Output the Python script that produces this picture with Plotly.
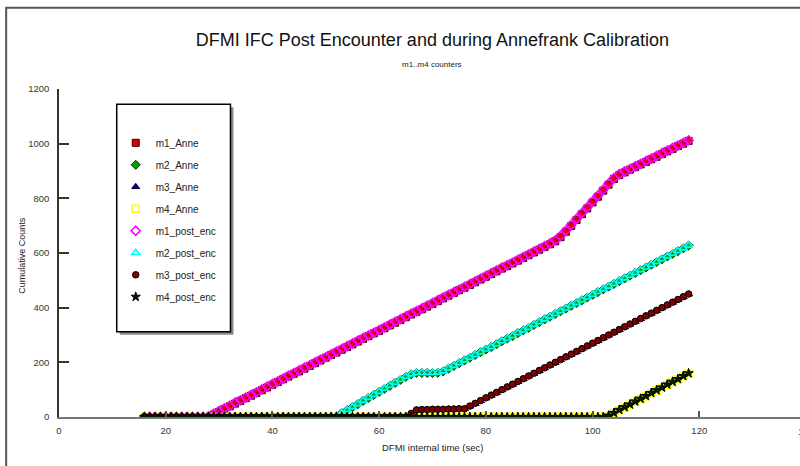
import plotly.graph_objects as go

# ---------------- data ----------------
time_s = [
    16, 17, 18, 19,
    20, 21, 22, 23, 24, 25, 26, 27, 28, 29,
    30, 31, 32, 33, 34, 35, 36, 37, 38, 39,
    40, 41, 42, 43, 44, 45, 46, 47, 48, 49,
    50, 51, 52, 53, 54, 55, 56, 57, 58, 59,
    60, 61, 62, 63, 64, 65, 66, 67, 68, 69,
    70, 71, 72, 73, 74, 75, 76, 77, 78, 79,
    80, 81, 82, 83, 84, 85, 86, 87, 88, 89,
    90, 91, 92, 93, 94, 95, 96, 97, 98, 99,
    100, 101, 102, 103, 104, 105, 106, 107, 108, 109,
    110, 111, 112, 113, 114, 115, 116, 117, 118,
]

m1_anne = [
    0, 0, 0, 0,
    0, 0, 0, 0, 0, 0, 0, 0, 0, 9,
    19, 29, 39, 49, 59, 69, 78, 88, 98, 108,
    118, 128, 138, 148, 158, 167, 177, 187, 197, 207,
    217, 227, 236, 246, 256, 266, 276, 286, 296, 306,
    315, 325, 335, 345, 355, 365, 375, 385, 394, 404,
    414, 424, 434, 444, 454, 464, 473, 483, 493, 503,
    513, 523, 533, 543, 552, 562, 572, 582, 592, 602,
    612, 622, 632, 643, 658, 678, 699, 721, 742, 763,
    785, 806, 828, 850, 871, 885, 895, 905, 914, 924,
    933, 943, 952, 962, 972, 981, 991, 1000, 1010,
]

m2_anne = [
    0, 0, 0, 0,
    0, 0, 0, 0, 0, 0, 0, 0, 0, 0,
    0, 0, 0, 0, 0, 0, 0, 0, 0, 0,
    0, 0, 0, 0, 0, 0, 0, 0, 0, 0,
    0, 0, 3, 14, 25, 36, 47, 59, 70, 81,
    92, 103, 114, 125, 136, 147, 156, 161, 161, 161,
    161, 162, 167, 177, 187, 197, 207, 217, 227, 237,
    247, 256, 266, 277, 287, 296, 307, 317, 326, 337,
    347, 357, 367, 377, 387, 397, 407, 417, 427, 437,
    447, 457, 467, 477, 487, 497, 507, 517, 527, 537,
    547, 557, 567, 577, 587, 597, 607, 617, 627,
]

m3_anne = [
    0, 0, 0, 0,
    0, 0, 0, 0, 0, 0, 0, 0, 0, 0,
    0, 0, 0, 0, 0, 0, 0, 0, 0, 0,
    0, 0, 0, 0, 0, 0, 0, 0, 0, 0,
    0, 0, 0, 0, 0, 0, 0, 0, 0, 0,
    0, 0, 0, 0, 0, 0, 12, 25, 27, 27,
    28, 28, 28, 29, 29, 30, 30, 39, 49, 59,
    69, 79, 89, 99, 109, 119, 129, 139, 149, 159,
    169, 179, 189, 199, 209, 219, 229, 239, 249, 259,
    269, 279, 289, 299, 309, 319, 329, 339, 349, 359,
    369, 379, 389, 399, 409, 419, 429, 439, 449,
]

m4_anne = [
    0, 0, 0, 0,
    0, 0, 0, 0, 0, 0, 0, 0, 0, 0,
    0, 0, 0, 0, 0, 0, 0, 0, 0, 0,
    0, 0, 0, 0, 0, 0, 0, 0, 0, 0,
    0, 0, 0, 0, 0, 0, 0, 0, 0, 0,
    0, 0, 0, 0, 0, 0, 0, 0, 0, 0,
    0, 0, 0, 0, 0, 0, 0, 0, 0, 0,
    0, 0, 0, 0, 0, 0, 0, 0, 0, 0,
    0, 0, 0, 0, 0, 0, 0, 0, 0, 0,
    0, 0, 0, 4, 14, 25, 35, 45, 56, 66,
    76, 87, 97, 107, 118, 128, 138, 149, 159,
]

m1_post_enc = [
    0, 0, 0, 0,
    0, 0, 0, 0, 0, 0, 0, 0, 2, 12,
    22, 31, 41, 52, 61, 71, 81, 90, 101, 111,
    121, 130, 140, 151, 160, 170, 180, 190, 200, 210,
    219, 229, 239, 249, 259, 269, 279, 289, 298, 308,
    318, 328, 338, 348, 358, 368, 378, 387, 397, 407,
    417, 427, 437, 447, 457, 466, 476, 486, 496, 506,
    516, 526, 536, 546, 555, 565, 575, 585, 595, 605,
    615, 625, 635, 646, 662, 682, 703, 725, 746, 767,
    789, 810, 832, 854, 874, 888, 898, 907, 917, 926,
    936, 945, 955, 965, 974, 984, 993, 1003, 1012,
]

m2_post_enc = [
    0, 0, 0, 0,
    0, 0, 0, 0, 0, 0, 0, 0, 0, 0,
    0, 0, 0, 0, 0, 0, 0, 0, 0, 0,
    0, 0, 0, 0, 0, 0, 0, 0, 0, 0,
    0, 0, 4, 15, 26, 37, 48, 60, 71, 82,
    93, 104, 115, 126, 137, 148, 157, 162, 162, 162,
    162, 163, 168, 178, 188, 198, 208, 218, 228, 238,
    248, 257, 267, 278, 288, 297, 308, 318, 327, 338,
    348, 358, 368, 378, 388, 398, 408, 418, 428, 438,
    448, 458, 468, 478, 488, 498, 508, 518, 528, 538,
    548, 558, 568, 578, 588, 598, 608, 618, 628,
]

m3_post_enc = [
    0, 0, 0, 0,
    0, 0, 0, 0, 0, 0, 0, 0, 0, 0,
    0, 0, 0, 0, 0, 0, 0, 0, 0, 0,
    0, 0, 0, 0, 0, 0, 0, 0, 0, 0,
    0, 0, 0, 0, 0, 0, 0, 0, 0, 0,
    0, 0, 0, 0, 0, 0, 13, 26, 27, 27,
    28, 28, 28, 29, 29, 30, 30, 40, 50, 60,
    70, 80, 90, 100, 110, 120, 130, 140, 150, 160,
    170, 180, 190, 200, 210, 220, 230, 240, 250, 260,
    270, 280, 290, 300, 310, 320, 330, 340, 350, 360,
    370, 380, 390, 400, 410, 420, 430, 440, 450,
]

m4_post_enc = [
    0, 0, 0, 0,
    0, 0, 0, 0, 0, 0, 0, 0, 0, 0,
    0, 0, 0, 0, 0, 0, 0, 0, 0, 0,
    0, 0, 0, 0, 0, 0, 0, 0, 0, 0,
    0, 0, 0, 0, 0, 0, 0, 0, 0, 0,
    0, 0, 0, 0, 0, 0, 0, 0, 0, 0,
    0, 0, 0, 0, 0, 0, 0, 0, 0, 0,
    0, 0, 0, 0, 0, 0, 0, 0, 0, 0,
    0, 0, 0, 0, 0, 0, 0, 0, 0, 0,
    0, 0, 0, 5, 15, 26, 36, 46, 57, 67,
    77, 88, 98, 108, 119, 129, 139, 150, 160,
]

series_names = ["m1_Anne", "m2_Anne", "m3_Anne", "m4_Anne",
                "m1_post_enc", "m2_post_enc", "m3_post_enc", "m4_post_enc"]
series_values = [m1_anne, m2_anne, m3_anne, m4_anne,
                 m1_post_enc, m2_post_enc, m3_post_enc, m4_post_enc]

x_ticks = [0, 20, 40, 60, 80, 100, 120]
y_ticks = [0, 200, 400, 600, 800, 1000, 1200]

# ---------------- styles ----------------
markers = [
    dict(symbol="square", size=7, color="#e00000", line=dict(color="#300000", width=1)),
    dict(symbol="diamond", size=7, color="#00a000", line=dict(color="#003000", width=1)),
    dict(symbol="triangle-up", size=7, color="#0000b0", line=dict(color="#000030", width=1)),
    dict(symbol="square-open", size=7, color="#ffff00", line=dict(width=1.5)),
    dict(symbol="diamond-open", size=7, color="#ff00ff", line=dict(width=1.6)),
    dict(symbol="triangle-up-open", size=7, color="#00ffff", line=dict(width=1.6)),
    dict(symbol="circle", size=6.5, color="#800000", line=dict(color="#000000", width=1)),
    dict(symbol="star", size=7, color="#002000", line=dict(color="#000000", width=1)),
]

W, H = 800, 466
L, R_PX, T, B_PX = 59.3, 800.0, 88.7, 416.7   # plot area in pixels
X_PER_PX = 20 / 106.67
x_max = (R_PX - L) * X_PER_PX


def px(xp):
    return (xp - L) / (R_PX - L)


def py(yp):
    return (B_PX - yp) / (B_PX - T)


fig = go.Figure()
for name, vals, mk in zip(series_names, series_values, markers):
    fig.add_trace(go.Scatter(x=time_s, y=vals, mode="markers", name=name,
                             legendgroup=name, marker=mk))

tick_font = dict(family="Liberation Sans, Arial, sans-serif", size=9.5, color="#333333")

fig.update_layout(
    width=W, height=H,
    margin=dict(l=L, r=W - R_PX, t=T, b=H - B_PX, pad=0),
    paper_bgcolor="white", plot_bgcolor="white",
    font=dict(family="Liberation Sans, Arial, sans-serif", color="#222222"),
    showlegend=True,
    legend=dict(x=px(116), y=py(128), xanchor="left", yanchor="top",
                bgcolor="rgba(0,0,0,0)", borderwidth=0,
                font=dict(size=10, color="#222222"),
                tracegroupgap=3, traceorder="grouped"),
    xaxis=dict(range=[0, x_max], tickvals=x_ticks, ticks="inside", ticklen=6,
               tickcolor="#555555", tickwidth=1.5, showline=True, linecolor="#777777",
               linewidth=2, showgrid=False, zeroline=False, tickfont=tick_font,
               ticklabelstandoff=4),
    yaxis=dict(range=[0, 1200], tickvals=y_ticks, ticks="inside", ticklen=10,
               tickcolor="#333333", tickwidth=1.5, showline=True, linecolor="#333333",
               linewidth=1.5, showgrid=False, zeroline=False, tickfont=tick_font,
               ticklabelstandoff=6),
    title=dict(text="DFMI IFC Post Encounter and during Annefrank Calibration",
               xref="paper", x=px(432.6), xanchor="center",
               yref="container", y=1 - 40 / H, yanchor="middle",
               font=dict(size=18, color="#111111")),
)

ann_font = dict(family="Liberation Sans, Arial, sans-serif", color="#222222")
common = dict(xref="paper", yref="paper", showarrow=False,
              xanchor="center", yanchor="middle")
fig.add_annotation(text="m1..m4 counters", x=px(432.6), y=py(64),
                   font=dict(ann_font, size=8), **common)
fig.add_annotation(text="Cumulative Counts", x=px(22.7), y=py(255), textangle=-90,
                   font=dict(ann_font, size=9), **common)
fig.add_annotation(text="DFMI internal time (sec)", x=px(432.6), y=py(446.7),
                   font=dict(ann_font, size=9.5), **common)
fig.add_annotation(text="140", x=px(806), y=py(431), font=tick_font, **common)

# outer frame (extends past the window, as in the cropped original)
fig.add_shape(type="rect", xref="paper", yref="paper",
              x0=px(6.5), y0=py(7.5), x1=px(830), y1=py(490),
              line=dict(color="#555555", width=2), fillcolor="rgba(0,0,0,0)",
              layer="below")
# legend box shadow and box
fig.add_shape(type="rect", xref="paper", yref="paper",
              x0=px(120), y0=py(107), x1=px(233.7), y1=py(334.5),
              line=dict(width=0), fillcolor="#8a8a8a", layer="above")
fig.add_shape(type="rect", xref="paper", yref="paper",
              x0=px(117), y0=py(104), x1=px(230.7), y1=py(331.5),
              line=dict(color="#000000", width=1.5), fillcolor="white", layer="above")

fig.write_html("out.html")
